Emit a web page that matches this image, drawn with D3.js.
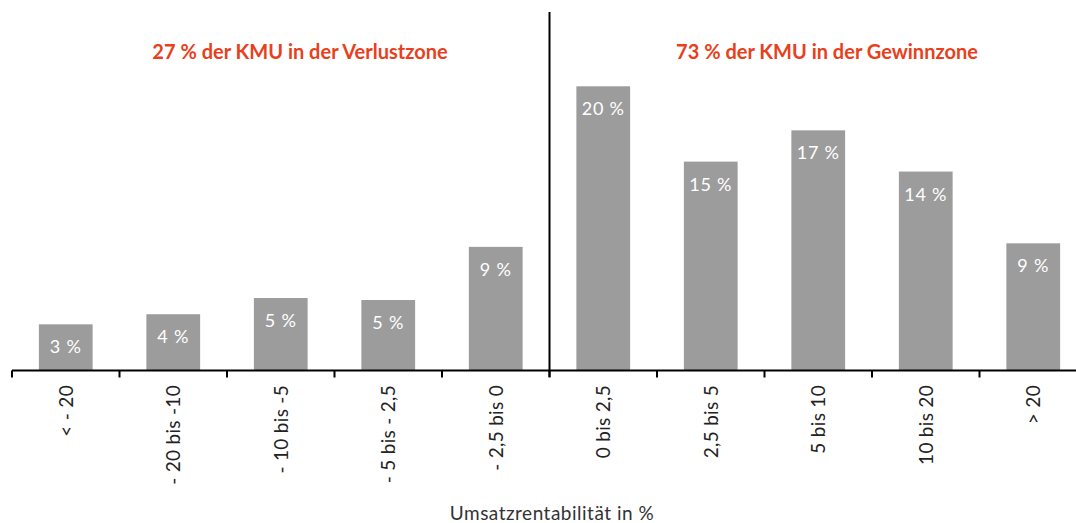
<!DOCTYPE html>
<html><head><meta charset="utf-8">
<script src="https://cdn.jsdelivr.net/npm/d3@7"></script>
<style>body{margin:0;background:#fff}svg{display:block}</style>
</head><body>
<svg id="c" width="1076" height="523"></svg>
<script>
const categories = ["< - 20","- 20 bis -10","- 10 bis -5","- 5 bis - 2,5","- 2,5 bis 0","0 bis 2,5","2,5 bis 5","5 bis 10","10 bis 20","> 20"];
const values = [3.25, 3.96, 5.1, 4.96, 8.7, 20, 14.7, 16.9, 14.0, 8.95];
const valueLabels = ["3 %","4 %","5 %","5 %","9 %","20 %","15 %","17 %","14 %","9 %"];
const zoneTitles = ["27 % der KMU in der Verlustzone","73 % der KMU in der Gewinnzone"];
const axisTitle = "Umsatzrentabilität in %";

const svg = d3.select("#c");
const font = "Lato, 'Open Sans', sans-serif";
const x0 = 12, x1 = 1087, baseY = 370.5;
const x = d3.scaleBand().domain(categories).range([x0, x1]).paddingInner(0.5).paddingOuter(0.25);
const y = d3.scaleLinear().domain([0, 20]).range([baseY, 86.3]);

// bars
svg.selectAll("rect.bar").data(values).join("rect")
  .attr("class","bar")
  .attr("x",(d,i)=>x(categories[i]))
  .attr("width",x.bandwidth())
  .attr("y",d=>y(d))
  .attr("height",d=>baseY-y(d))
  .attr("fill","#9c9c9c");

// value labels
svg.selectAll("text.val").data(values).join("text")
  .attr("class","val")
  .attr("x",(d,i)=>x(categories[i])+x.bandwidth()/2)
  .attr("y",d=>y(d)+29)
  .attr("text-anchor","middle")
  .attr("fill","#fff")
  .attr("font-family",font)
  .attr("font-size",18)
  .attr("letter-spacing","0.8px")
  .text((d,i)=>valueLabels[i]);

// axis line
svg.append("line").attr("x1",x0).attr("x2",1076).attr("y1",baseY).attr("y2",baseY)
  .attr("stroke","#000").attr("stroke-width",2);
// ticks at band boundaries
const ticks = d3.range(0, categories.length+1).map(i=>x0+i*(x1-x0)/categories.length);
svg.selectAll("line.tick").data(ticks).join("line")
  .attr("class","tick")
  .attr("x1",d=>d).attr("x2",d=>d)
  .attr("y1",baseY).attr("y2",baseY+7)
  .attr("stroke","#000").attr("stroke-width",2);

// category labels rotated
svg.selectAll("text.cat").data(categories).join("text")
  .attr("class","cat")
  .attr("transform",d=>`translate(${x(d)+x.bandwidth()/2+7},385) rotate(-90)`)
  .attr("text-anchor","end")
  .attr("fill","#222")
  .attr("font-family",font)
  .attr("font-size",19)
  .attr("letter-spacing","0.3px")
  .text(d=>d);

// divider
const divX = ticks[5];
svg.append("line").attr("x1",divX).attr("x2",divX).attr("y1",12).attr("y2",377)
  .attr("stroke","#000").attr("stroke-width",2);

// zone titles
const zoneCenters = [300, 827];
svg.selectAll("text.zone").data(zoneTitles).join("text")
  .attr("class","zone")
  .attr("x",(d,i)=>zoneCenters[i])
  .attr("y",59)
  .attr("text-anchor","middle")
  .attr("fill","#e8401c")
  .attr("font-family",font)
  .attr("font-weight","bold")
  .attr("font-size",20)
  .text(d=>d);

// axis title
svg.append("text").attr("x",552).attr("y",520)
  .attr("text-anchor","middle").attr("fill","#333")
  .attr("font-family",font).attr("font-size",19)
  .attr("letter-spacing","0.5px")
  .text(axisTitle);
</script>
</body></html>
